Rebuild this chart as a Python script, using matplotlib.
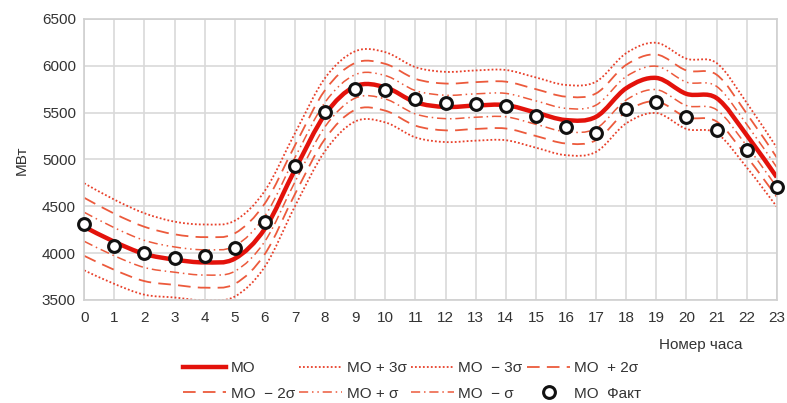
import numpy as np
from matplotlib import pyplot as plt
from matplotlib.path import Path
from matplotlib.patches import PathPatch
from matplotlib.lines import Line2D

plt.rcParams['font.family'] = ['Liberation Sans', 'DejaVu Sans']

hours = list(range(24))
mo = [4280, 4120, 3990, 3930, 3900, 3940, 4260, 4890, 5480, 5780, 5770, 5610,
      5560, 5575, 5580, 5500, 5420, 5455, 5760, 5870, 5700, 5655, 5260, 4810]
fact = [4310, 4080, 4005, 3950, 3970, 4050, 4335, 4930, 5505, 5750, 5742, 5645,
        5600, 5590, 5570, 5465, 5350, 5280, 5540, 5610, 5450, 5310, 5100, 4700]
sigma = [155, 150, 145, 135, 135, 135, 135, 130, 130, 125, 125, 125,
         125, 125, 125, 125, 125, 125, 125, 125, 125, 125, 115, 105]
y_ticks = [3500, 4000, 4500, 5000, 5500, 6000, 6500]

RED = '#e3120b'
ORANGE = '#ec5a3c'
DOT = '#e8402a'
TXT = '#333333'


def smooth_path(x, y):
    # excel-like smoothed line: catmull-rom converted to cubic bezier
    x = np.asarray(x, float)
    y = np.asarray(y, float)
    n = len(x)
    verts = [(x[0], y[0])]
    codes = [Path.MOVETO]
    for i in range(n - 1):
        i0, i2 = max(i - 1, 0), min(i + 2, n - 1)
        c1 = (x[i] + (x[i + 1] - x[i0]) / 6, y[i] + (y[i + 1] - y[i0]) / 6)
        c2 = (x[i + 1] - (x[i2] - x[i]) / 6, y[i + 1] - (y[i2] - y[i]) / 6)
        verts += [c1, c2, (x[i + 1], y[i + 1])]
        codes += [Path.CURVE4] * 3
    return Path(verts, codes)


def add_curve(ax, y, label, **kw):
    ax.add_patch(PathPatch(smooth_path(hours, y), fill=False, **kw))
    return Line2D([], [], label=label, color=kw['edgecolor'],
                  linewidth=kw['linewidth'], linestyle=kw['linestyle'])


fig = plt.figure(figsize=(7.87, 4.03), dpi=100)
ax = fig.add_axes([0.107, 0.256, 0.88, 0.697])

mo_a = np.array(mo)
sg = np.array(sigma)

h = {}
h['+3'] = add_curve(ax, mo_a + 3 * sg, 'МО + 3σ', edgecolor=DOT, linewidth=1.3, linestyle=(0, (1, 1.2)))
h['-3'] = add_curve(ax, mo_a - 3 * sg, 'МО  − 3σ', edgecolor=DOT, linewidth=1.3, linestyle=(0, (1, 1.2)))
h['+2'] = add_curve(ax, mo_a + 2 * sg, 'МО  + 2σ', edgecolor=ORANGE, linewidth=1.3, linestyle=(0, (7, 4)))
h['-2'] = add_curve(ax, mo_a - 2 * sg, 'МО  − 2σ', edgecolor=ORANGE, linewidth=1.3, linestyle=(0, (7, 4)))
h['+1'] = add_curve(ax, mo_a + sg, 'МО + σ', edgecolor=ORANGE, linewidth=1.1, linestyle=(0, (6, 2.5, 1, 2.5, 1, 2.5)))
h['-1'] = add_curve(ax, mo_a - sg, 'МО  − σ', edgecolor=ORANGE, linewidth=1.1, linestyle=(0, (6, 2.5, 1, 2.5)))
h['mo'] = add_curve(ax, mo_a, 'МО', edgecolor=RED, linewidth=3.2, linestyle='-')

h['fact'], = ax.plot(hours, fact, 'o', markersize=8.5, markerfacecolor='white',
                     markeredgecolor='#111111', markeredgewidth=2.2,
                     clip_on=False, zorder=5, label='МО  Факт')

ax.set_xlim(0, 23)
ax.set_ylim(3500, 6500)
ax.set_xticks(hours)
ax.set_yticks(y_ticks)
ax.grid(True, color='#d9d9d9', linewidth=1.2)
ax.set_axisbelow(True)
for s in ax.spines.values():
    s.set_color('#d0d0d0')
    s.set_linewidth(1.2)
ax.tick_params(length=0, labelsize=11, labelcolor=TXT)
ax.tick_params(axis='x', pad=8)
ax.tick_params(axis='y', pad=6)

fig.text(0.028, 0.603, 'МВт', rotation=90, ha='center', va='center',
         fontsize=11, color=TXT)
fig.text(0.891, 0.144, 'Номер часа', ha='center', va='center',
         fontsize=11, color=TXT)

order = ['mo', '-2', '+3', '+1', '-3', '-1', '+2', 'fact']
fig.legend([h[k] for k in order], [h[k].get_label() for k in order],
           loc='center', bbox_to_anchor=(0.524, 0.055), ncol=4, frameon=False,
           fontsize=11, handlelength=2.8, handletextpad=0.3, columnspacing=0.3,
           labelspacing=0.75, borderpad=0, labelcolor=TXT)

fig.savefig('out.png', dpi=100)
